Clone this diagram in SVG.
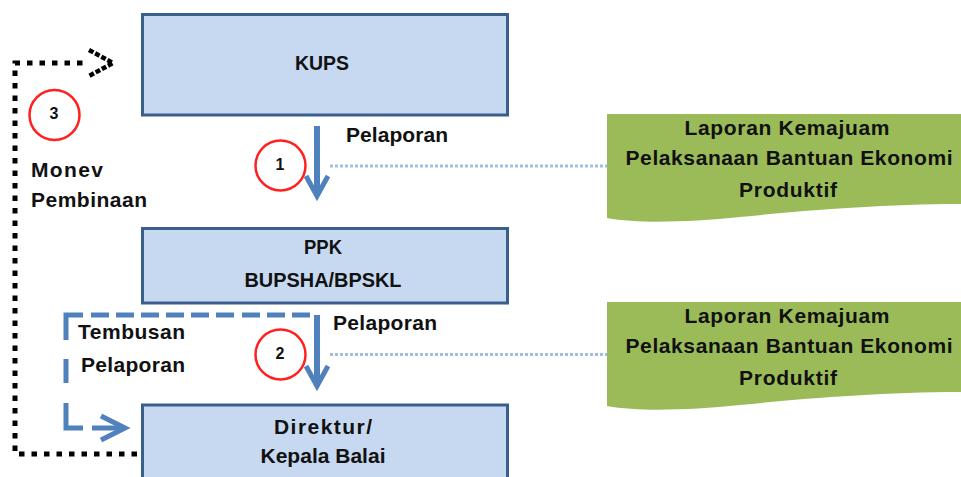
<svg xmlns="http://www.w3.org/2000/svg" width="961" height="477" viewBox="0 0 961 477">
  <style>
    .box { fill: #c6d9f1; stroke: #3b5e8c; stroke-width: 3; }
    .doc { fill: #9bbb59; }
    .t { font-family: "Liberation Sans", Arial, sans-serif; font-weight: bold; font-size: 21px; fill: #111; }
    .tc { text-anchor: middle; }
    .num { font-family: "Liberation Sans", Arial, sans-serif; font-weight: bold; font-size: 16px; fill: #111; text-anchor: middle; }
    .ring { fill: #fff; stroke: #ff2020; stroke-width: 2.5; }
    .flow { stroke: #4f81bd; stroke-width: 6; fill: none; }
    .flowhead { stroke: #4f81bd; stroke-width: 5; fill: none; stroke-linejoin: miter; }
    .dash { stroke: #4f81bd; stroke-width: 5; fill: none; }
    .link { stroke: #a3bde0; stroke-width: 3; stroke-dasharray: 3 2; fill: none; }
    .dot { stroke: #000; stroke-width: 5; stroke-dasharray: 5.5 7; fill: none; }
  </style>

  <!-- connectors -->
  <g id="connectors">
    <!-- monitoring loop: Direktur back to KUPS -->
    <path class="dot" d="M137,454 H15 V63 H86"/>
    <polyline points="89,50 113,63 89,76" fill="none" stroke="#000" stroke-width="4.5" stroke-dasharray="5 2"/>

    <!-- copy of report: PPK to Direktur -->
    <g class="dash">
      <path d="M66,340 V315 H83"/>
      <path d="M91,315 H109 M116,315 H134 M141,315 H159 M166,315 H184 M191,315 H209 M216,315 H234 M242,315 H260 M267,315 H285 M292,315 H310"/>
      <path d="M66,359 V383"/>
      <path d="M66,403 V428 H83"/>
      <path d="M92,428 H124"/>
      <polyline points="101,416 125,428 101,440"/>
    </g>

    <!-- reporting lines to the report notes -->
    <line class="link" x1="330" y1="166" x2="607" y2="166"/>
    <line class="link" x1="330" y1="354.5" x2="607" y2="354.5"/>
  </g>

  <!-- numbered markers -->
  <g id="marker-3">
    <circle class="ring" cx="54.5" cy="115" r="25"/>
    <text class="num" x="54" y="119">3</text>
  </g>
  <g id="marker-1">
    <circle class="ring" cx="280.5" cy="165.5" r="25"/>
    <text class="num" x="280" y="170">1</text>
  </g>
  <g id="marker-2">
    <circle class="ring" cx="280.5" cy="354.5" r="25"/>
    <text class="num" x="280" y="359">2</text>
  </g>

  <!-- reporting arrows -->
  <g id="arrows">
    <line class="flow" x1="317" y1="126" x2="317" y2="196"/>
    <polyline class="flowhead" points="306,176 317,196 328,176"/>
    <line class="flow" x1="317" y1="315" x2="317" y2="386"/>
    <polyline class="flowhead" points="306,366 317,386 328,366"/>
  </g>

  <!-- nodes -->
  <g id="kups">
    <rect class="box" x="142.5" y="14.5" width="365" height="100.5"/>
    <text class="t tc" x="322" y="70" textLength="54" lengthAdjust="spacingAndGlyphs">KUPS</text>
  </g>

  <g id="ppk">
    <rect class="box" x="142.5" y="228.5" width="365" height="74.5"/>
    <text class="t tc" x="323" y="254" textLength="38" lengthAdjust="spacingAndGlyphs">PPK</text>
    <text class="t tc" x="323" y="287" textLength="157" lengthAdjust="spacingAndGlyphs">BUPSHA/BPSKL</text>
  </g>

  <g id="direktur">
    <rect class="box" x="142.5" y="405" width="365" height="100"/>
    <text class="t tc" x="323" y="434" textLength="98">Direktur/</text>
    <text class="t tc" x="323" y="463" textLength="125">Kepala Balai</text>
  </g>

  <g id="laporan-1">
    <path class="doc" d="M607,114 H961 V204 C880,204 800,211 740,217 C690,222 640,224 607,218 Z"/>
    <text class="t tc" x="787" y="135" textLength="205">Laporan  Kemajuam</text>
    <text class="t tc" x="789" y="165" textLength="327">Pelaksanaan  Bantuan  Ekonomi</text>
    <text class="t tc" x="788" y="197" textLength="98">Produktif</text>
  </g>

  <g id="laporan-2">
    <path class="doc" d="M607,302 H961 V392 C880,392 800,399 740,405 C690,410 640,412 607,406 Z"/>
    <text class="t tc" x="787" y="323" textLength="205">Laporan  Kemajuam</text>
    <text class="t tc" x="789" y="353" textLength="327">Pelaksanaan  Bantuan  Ekonomi</text>
    <text class="t tc" x="788" y="385" textLength="98">Produktif</text>
  </g>

  <!-- labels -->
  <g id="labels">
    <text class="t" x="346" y="142" textLength="102">Pelaporan</text>
    <text class="t" x="333" y="330" textLength="104">Pelaporan</text>
    <text class="t" x="31" y="177" textLength="72">Monev</text>
    <text class="t" x="31" y="207" textLength="116">Pembinaan</text>
    <text class="t" x="78" y="339" textLength="107">Tembusan</text>
    <text class="t" x="81" y="372" textLength="104">Pelaporan</text>
  </g>
</svg>
